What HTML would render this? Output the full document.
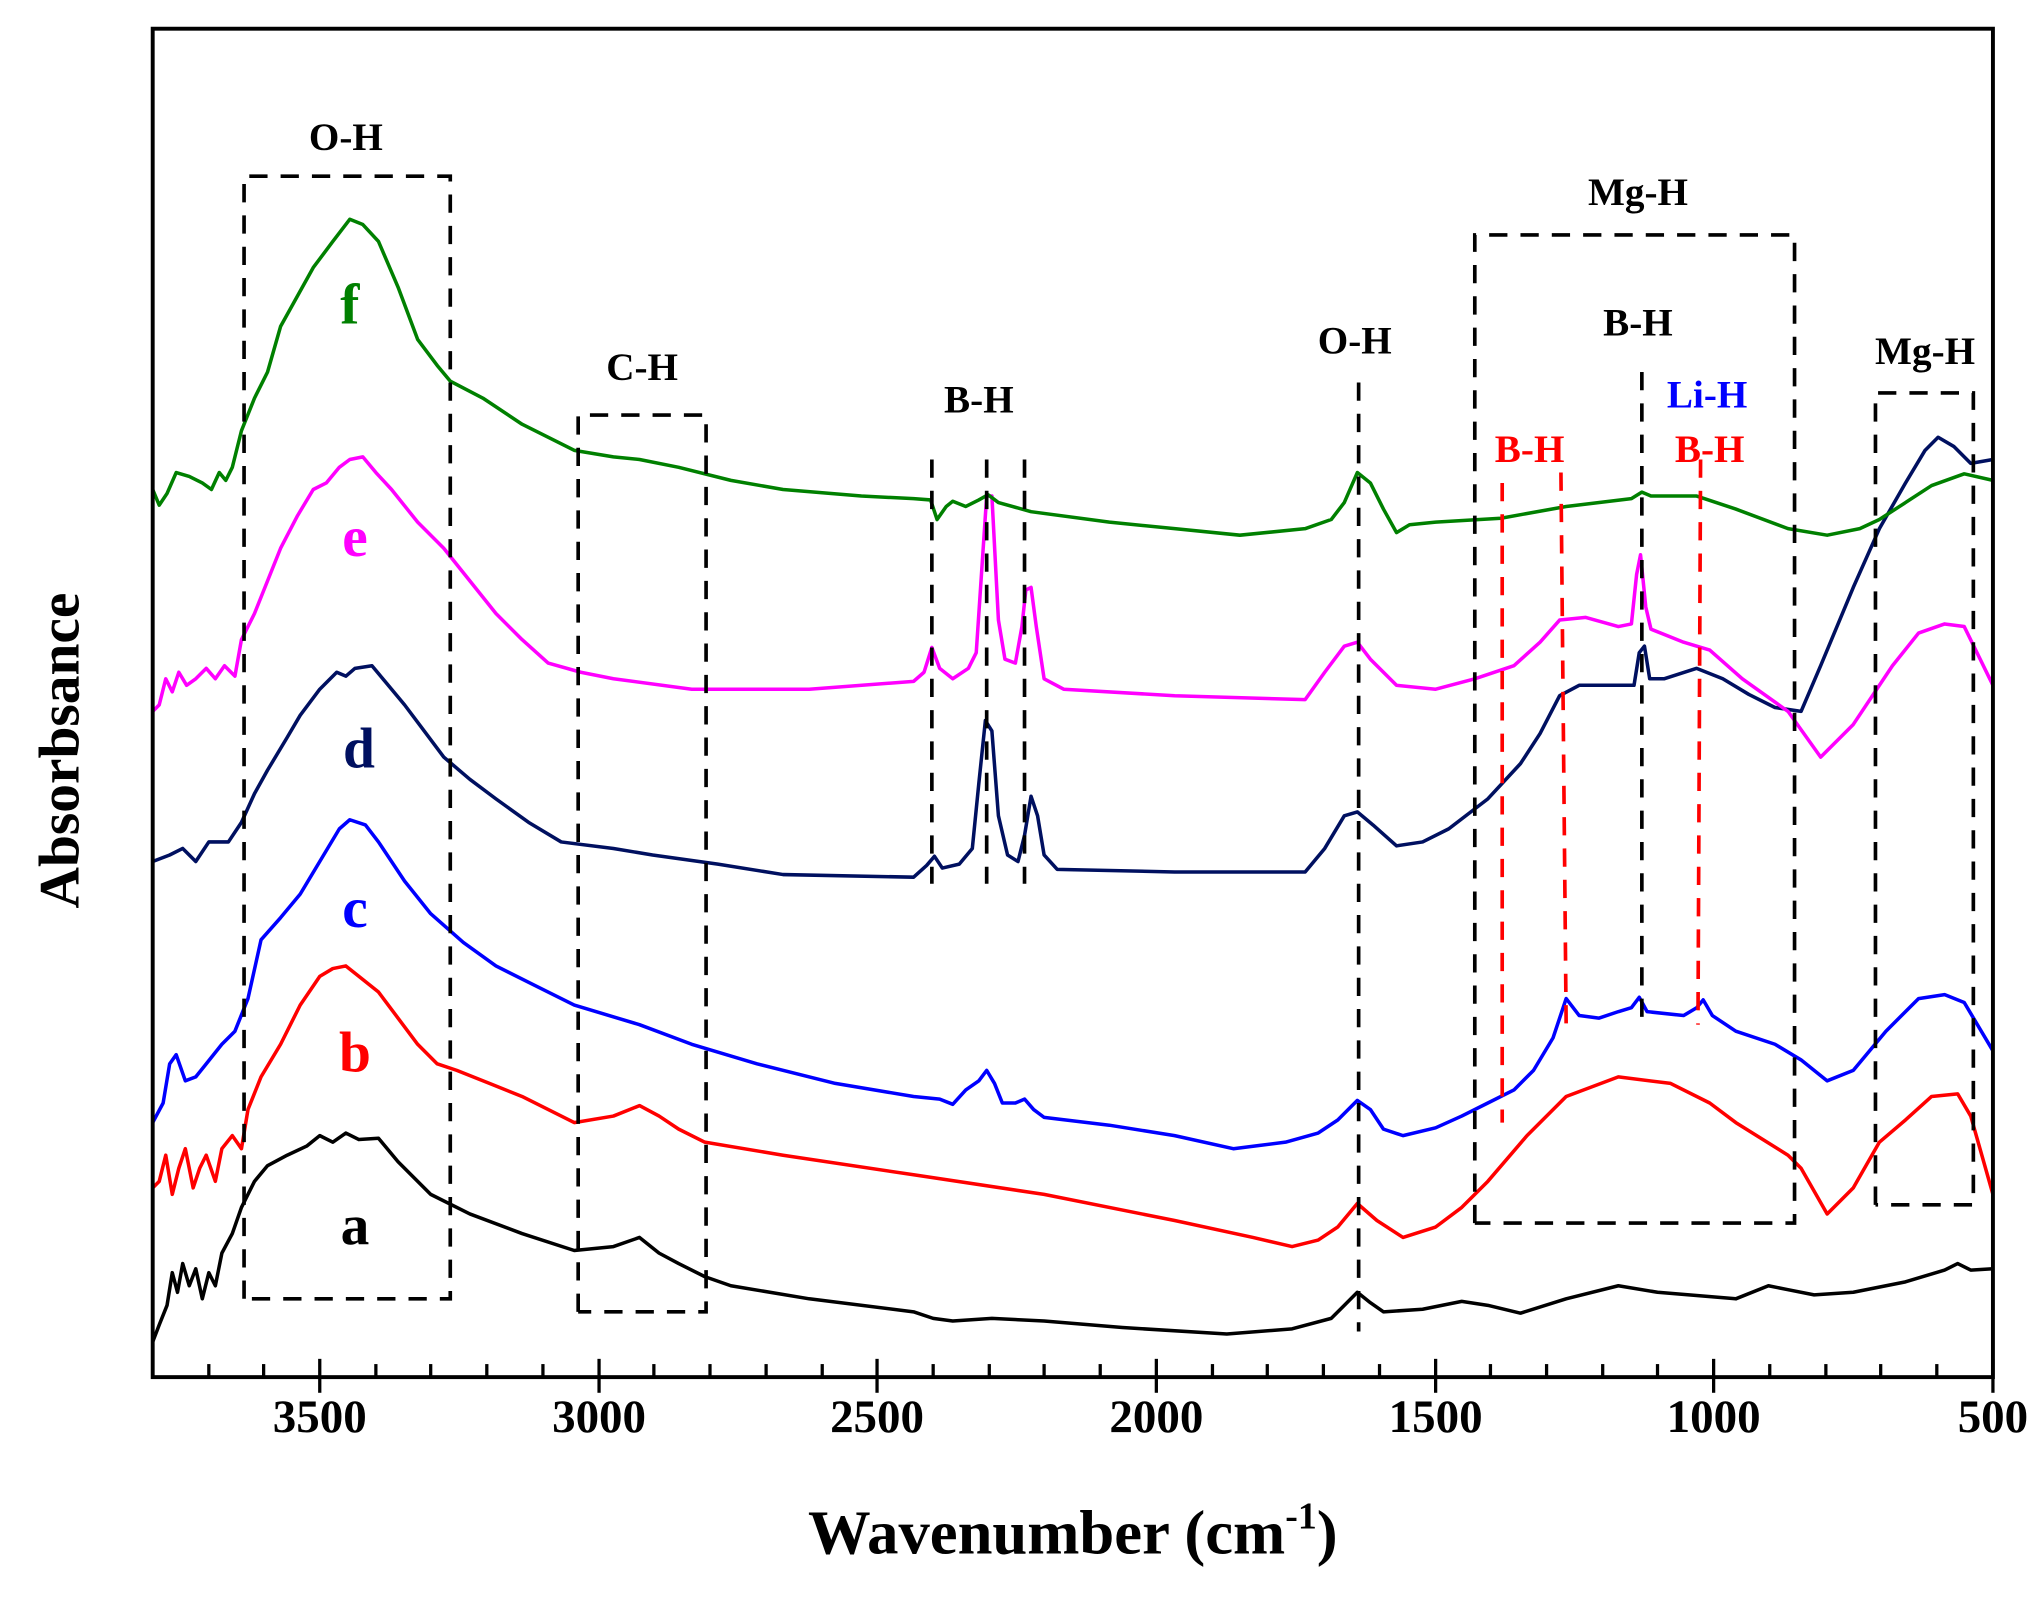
<!DOCTYPE html>
<html><head><meta charset="utf-8"><style>html,body{margin:0;padding:0;background:#fff}svg{display:block}</style></head>
<body>
<svg width="2036" height="1616" viewBox="0 0 1560 1238" preserveAspectRatio="none" xmlns="http://www.w3.org/2000/svg" font-family="Liberation Serif, serif" font-weight="bold">
<rect x="0" y="0" width="1560" height="1238" fill="#fff"/>
<g fill="none" stroke-width="2.7" stroke-linejoin="round">
<polyline stroke="#000" points="117,1028 122,1015 128,1000 132,975 136,990 140,968 145,985 150,972 155,995 160,975 165,985 170,960 178,945 185,925 195,905 205,893 220,885 235,878 245,870 255,875 265,868 275,873 290,872 305,890 330,915 360,930 400,945 440,958 470,955 490,948 505,960 520,968 540,978 560,985 620,995 700,1005 715,1010 730,1012 760,1010 800,1012 860,1017 940,1022 990,1018 1020,1010 1030,1000 1040,990 1050,998 1060,1005 1090,1003 1120,997 1140,1000 1165,1006 1200,995 1240,985 1270,990 1330,995 1355,985 1370,988 1390,992 1420,990 1460,982 1490,973 1500,968 1510,973 1527,972"/>
<polyline stroke="#f00" points="117,910 122,905 127,885 132,915 137,895 142,880 148,910 153,895 158,885 165,905 170,880 178,870 185,880 190,850 200,825 215,800 230,770 245,748 255,742 265,740 275,748 290,760 305,780 320,800 335,815 350,820 375,830 400,840 440,860 470,855 490,847 505,855 520,865 540,875 600,885 700,900 800,915 900,935 960,948 990,955 1010,950 1025,940 1040,922 1055,935 1075,948 1100,940 1120,925 1140,905 1170,870 1200,840 1240,825 1280,830 1310,845 1330,860 1370,885 1380,895 1400,930 1420,910 1440,875 1460,858 1480,840 1500,838 1510,855 1527,915"/>
<polyline stroke="#0000ff" points="117,860 125,845 130,815 135,808 142,828 150,825 158,815 170,800 180,790 190,765 200,720 215,703 230,685 245,660 260,635 268,628 280,632 290,645 310,675 330,700 355,722 380,740 410,755 440,770 490,785 530,800 580,815 640,830 700,840 720,842 730,846 740,835 750,828 756,820 762,830 768,845 778,845 785,842 792,850 800,856 850,862 900,870 945,880 985,875 1010,868 1025,858 1040,843 1050,850 1060,865 1075,870 1100,864 1120,855 1140,845 1160,835 1175,820 1190,795 1200,765 1210,778 1225,780 1240,775 1250,772 1256,764 1262,775 1290,778 1300,772 1305,766 1312,778 1330,790 1360,800 1380,812 1400,828 1420,820 1445,790 1470,765 1490,762 1505,768 1527,805"/>
<polyline stroke="#001060" points="117,660 130,655 140,650 150,660 160,645 175,645 185,630 195,608 205,590 220,565 230,548 245,528 258,515 265,518 272,512 285,510 295,522 310,540 325,560 340,580 360,597 380,612 405,630 430,645 470,650 500,655 550,662 600,670 700,672 710,663 716,656 722,665 735,662 745,650 750,600 755,552 760,560 765,625 772,655 780,660 785,640 790,610 795,625 800,655 810,666 900,668 1000,668 1015,650 1030,625 1040,622 1052,632 1070,648 1090,645 1110,635 1140,612 1165,585 1180,562 1195,533 1210,525 1235,525 1252,525 1256,500 1260,495 1264,520 1275,520 1300,512 1320,520 1340,532 1360,542 1380,545 1395,510 1420,450 1440,405 1460,370 1475,345 1485,335 1497,342 1510,355 1527,352"/>
<polyline stroke="#ff00ff" points="117,545 122,540 127,520 132,530 137,515 143,525 150,520 158,512 165,520 172,510 180,518 185,490 195,470 205,445 215,420 228,395 240,375 250,370 260,358 268,352 278,350 288,362 300,375 320,400 340,420 360,445 380,470 400,490 420,508 445,515 470,520 530,528 620,528 700,522 708,515 714,496 720,512 730,520 742,512 748,500 752,440 756,380 760,380 765,475 770,505 778,508 783,480 786,452 790,450 794,480 800,520 815,528 900,533 1000,536 1015,515 1030,495 1040,492 1050,505 1070,525 1100,528 1130,520 1160,510 1180,492 1195,475 1215,473 1240,480 1250,478 1254,440 1257,425 1261,465 1265,482 1290,492 1310,498 1335,520 1370,545 1395,580 1420,555 1450,510 1470,485 1490,478 1505,480 1527,525"/>
<polyline stroke="#008000" points="117,375 122,387 128,378 135,362 145,365 155,370 162,375 168,362 173,368 178,358 185,330 195,305 205,285 215,250 225,232 240,205 255,185 268,168 278,172 290,185 305,220 320,260 335,280 345,292 370,305 400,325 440,345 470,350 490,352 520,358 560,368 600,375 660,380 700,382 713,383 718,398 725,388 730,384 740,388 750,383 757,379 765,385 790,392 850,400 900,405 950,410 1000,405 1020,398 1030,385 1040,362 1050,370 1060,390 1070,408 1080,402 1100,400 1150,397 1200,388 1250,382 1258,377 1265,380 1300,380 1330,390 1370,405 1400,410 1425,405 1440,398 1460,385 1480,372 1505,363 1527,368"/>
</g>
<g fill="none" stroke="#000" stroke-width="2.8" stroke-dasharray="14,10">
<polyline points="187,995 187,135 345,135 345,995 187,995"/>
<polyline points="443,1005 443,318 541,318 541,1005 443,1005"/>
<polyline points="1130,937 1130,180 1375,180 1375,937 1130,937"/>
<polyline points="1437,923 1437,301 1512,301 1512,923 1437,923"/>
<line x1="714" y1="352" x2="714" y2="677"/>
<line x1="756" y1="352" x2="756" y2="677"/>
<line x1="785" y1="352" x2="785" y2="677"/>
<line x1="1041" y1="293" x2="1041" y2="1020"/>
<line x1="1258" y1="285" x2="1258" y2="780"/>
</g>
<g fill="none" stroke="#f00" stroke-width="2.8" stroke-dasharray="14,10">
<line x1="1151" y1="370" x2="1151" y2="860"/>
<line x1="1196" y1="362" x2="1200" y2="785"/>
<line x1="1303" y1="352" x2="1301" y2="785"/>
</g>
<rect x="117" y="22" width="1410" height="1033" fill="none" stroke="#000" stroke-width="3"/>
<g stroke="#000" stroke-width="2.5">
<line x1="245" y1="1041" x2="245" y2="1067"/><line x1="459" y1="1041" x2="459" y2="1067"/><line x1="672" y1="1041" x2="672" y2="1067"/><line x1="886" y1="1041" x2="886" y2="1067"/><line x1="1100" y1="1041" x2="1100" y2="1067"/><line x1="1313" y1="1041" x2="1313" y2="1067"/><line x1="1527" y1="1041" x2="1527" y2="1067"/>
<line x1="160" y1="1045" x2="160" y2="1055"/><line x1="202" y1="1045" x2="202" y2="1055"/><line x1="288" y1="1045" x2="288" y2="1055"/><line x1="330" y1="1045" x2="330" y2="1055"/><line x1="373" y1="1045" x2="373" y2="1055"/><line x1="416" y1="1045" x2="416" y2="1055"/><line x1="501" y1="1045" x2="501" y2="1055"/><line x1="544" y1="1045" x2="544" y2="1055"/><line x1="587" y1="1045" x2="587" y2="1055"/><line x1="630" y1="1045" x2="630" y2="1055"/><line x1="715" y1="1045" x2="715" y2="1055"/><line x1="758" y1="1045" x2="758" y2="1055"/><line x1="800" y1="1045" x2="800" y2="1055"/><line x1="843" y1="1045" x2="843" y2="1055"/><line x1="929" y1="1045" x2="929" y2="1055"/><line x1="971" y1="1045" x2="971" y2="1055"/><line x1="1014" y1="1045" x2="1014" y2="1055"/><line x1="1057" y1="1045" x2="1057" y2="1055"/><line x1="1142" y1="1045" x2="1142" y2="1055"/><line x1="1185" y1="1045" x2="1185" y2="1055"/><line x1="1228" y1="1045" x2="1228" y2="1055"/><line x1="1270" y1="1045" x2="1270" y2="1055"/><line x1="1356" y1="1045" x2="1356" y2="1055"/><line x1="1399" y1="1045" x2="1399" y2="1055"/><line x1="1441" y1="1045" x2="1441" y2="1055"/><line x1="1484" y1="1045" x2="1484" y2="1055"/>
</g>
<g font-size="36" text-anchor="middle" fill="#000">
<text x="245" y="1097">3500</text><text x="459" y="1097">3000</text><text x="672" y="1097">2500</text><text x="886" y="1097">2000</text><text x="1100" y="1097">1500</text><text x="1313" y="1097">1000</text><text x="1527" y="1097">500</text>
</g>
<text x="822" y="1190" font-size="48" text-anchor="middle">Wavenumber (cm<tspan font-size="29" dy="-19">-1</tspan><tspan dy="19">)</tspan></text>
<text transform="translate(60,575) rotate(-90)" font-size="44" text-anchor="middle">Absorbsance</text>
<g font-size="30" text-anchor="middle" fill="#000">
<text x="265" y="115">O-H</text><text x="492" y="291">C-H</text><text x="750" y="316">B-H</text><text x="1038" y="271">O-H</text><text x="1255" y="157">Mg-H</text><text x="1255" y="257">B-H</text><text x="1475" y="279">Mg-H</text>
<text x="1308" y="312" fill="#0000ff">Li-H</text><text x="1172" y="354" fill="#f00">B-H</text><text x="1310" y="354" fill="#f00">B-H</text>
</g>
<g font-size="44" text-anchor="middle">
<text x="268" y="248" fill="#008000">f</text><text x="272" y="426" fill="#ff00ff">e</text><text x="275" y="588" fill="#001060">d</text><text x="272" y="710" fill="#0000ff">c</text><text x="272" y="821" fill="#f00">b</text><text x="272" y="953" fill="#000">a</text>
</g>
</svg>
</body></html>
